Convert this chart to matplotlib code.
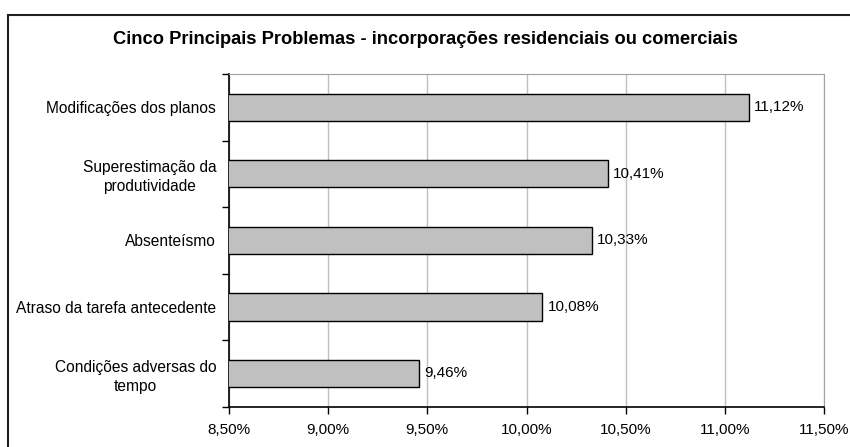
import matplotlib.pyplot as plt
from matplotlib.patches import Rectangle
import numpy as np

plt.rcParams['font.family'] = ['Liberation Sans', 'DejaVu Sans']

# Data
categories = ['Modificações dos planos',
              'Superestimação da\nprodutividade',
              'Absenteísmo',
              'Atraso da tarefa antecedente',
              'Condições adversas do\ntempo']
values = [11.12, 10.41, 10.33, 10.08, 9.46]
x_ticks = [8.5, 9.0, 9.5, 10.0, 10.5, 11.0, 11.5]
title = 'Cinco Principais Problemas - incorporações residenciais ou comerciais'

fig = plt.figure(figsize=(8.5, 4.47), dpi=100)
ax = fig.add_axes([0.2691, 0.0902, 0.7007, 0.7443])

y = np.arange(len(categories))
ax.barh(y, values, left=0, height=0.41, color='#c0c0c0', edgecolor='black',
        linewidth=1, zorder=3)

ax.set_xlim(8.5, 11.5)
ax.set_ylim(len(categories) - 0.5, -0.5)
ax.set_xticks(x_ticks)
ax.set_xticklabels([('%.2f%%' % v).replace('.', ',') for v in x_ticks], fontsize=11)
ax.tick_params(axis='x', direction='out', length=5, width=1, pad=7)

# category labels without ticks, tick marks between categories
ax.set_yticks(y)
ax.set_yticklabels(categories, fontsize=11.2, multialignment='center',
                   linespacing=1.3)
ax.tick_params(axis='y', which='major', length=0, pad=9)
ax.set_yticks(np.arange(-0.5, len(categories), 1), minor=True)
ax.tick_params(axis='y', which='minor', direction='out', length=5, width=1)

ax.grid(axis='x', color='#c0c0c0', linewidth=1, zorder=0)
ax.spines['top'].set_color('#a0a0a0')
ax.spines['right'].set_color('#a0a0a0')
ax.spines['left'].set_linewidth(1.2)
ax.spines['bottom'].set_linewidth(1.2)

for yi, v in zip(y, values):
    ax.text(v + 0.025, yi, ('%.2f%%' % v).replace('.', ','), va='center',
            ha='left', fontsize=11)

fig.text(0.5, 1 - 40 / 447, title, ha='center', va='center',
         fontsize=13.2, fontweight='bold')

# outer chart frame (cut off at right and bottom in the reference)
fig.patches.append(Rectangle((8 / 850, -0.05), 1.0, 1 - 15 / 447 + 0.05,
                             transform=fig.transFigure, fill=False,
                             edgecolor='#202020', linewidth=1.5))

fig.savefig('out.png', dpi=100)
